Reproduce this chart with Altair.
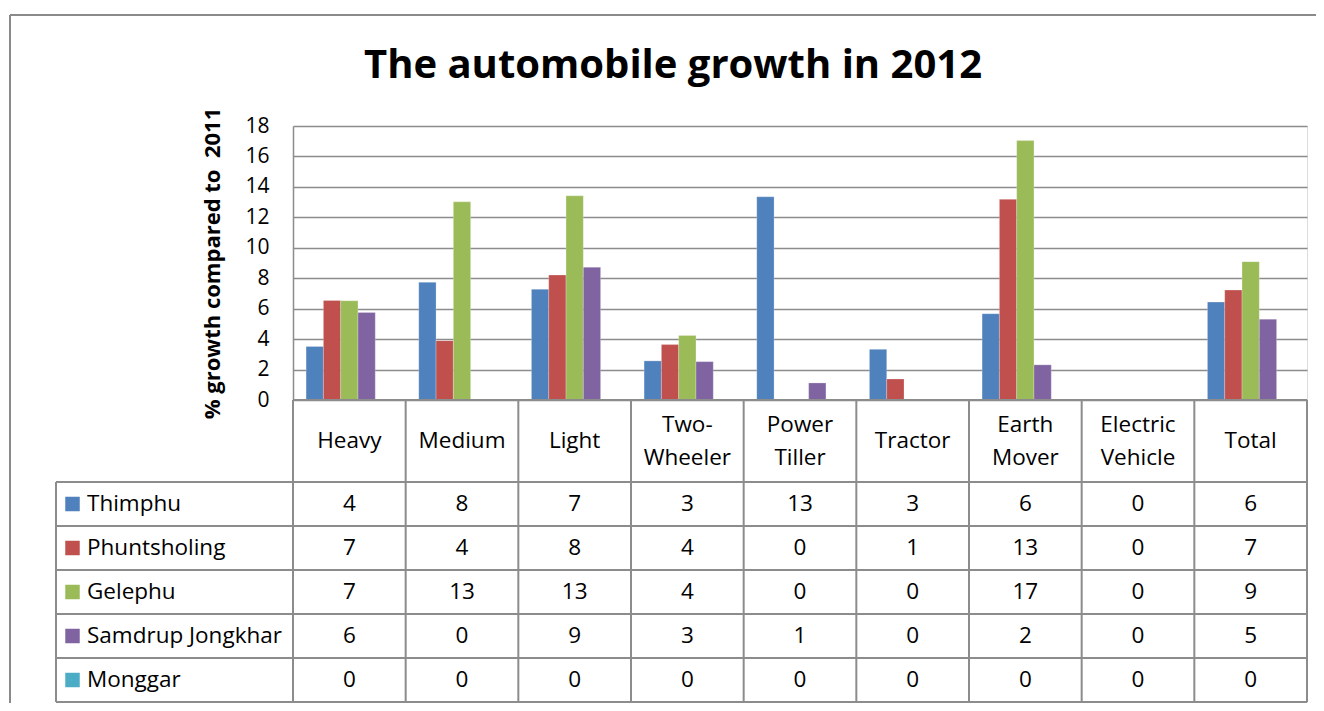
import altair as alt
import pandas as pd

# ---------------- data ----------------
categories = ["Heavy", "Medium", "Light", "Two-Wheeler", "Power Tiller",
              "Tractor", "Earth Mover", "Electric Vehicle", "Total"]
header_labels = ["Heavy", "Medium", "Light", "Two-\nWheeler", "Power\nTiller",
                 "Tractor", "Earth\nMover", "Electric\nVehicle", "Total"]
cities = ["Thimphu", "Phuntsholing", "Gelephu", "Samdrup Jongkhar", "Monggar"]
colors = ["#4F81BD", "#C0504D", "#9BBB59", "#8064A2", "#4BACC6"]

thimphu      = [3.52, 7.73, 7.27, 2.57, 13.35, 3.33, 5.67, 0, 6.43]
phuntsholing = [6.54, 3.90, 8.21, 3.64, 0.0, 1.38, 13.18, 0, 7.22]
gelephu      = [6.52, 13.02, 13.41, 4.24, 0.0, 0.0, 17.04, 0, 9.09]
samdrup      = [5.75, 0.0, 8.72, 2.52, 1.12, 0.0, 2.31, 0, 5.31]
monggar      = [0, 0, 0, 0, 0, 0, 0, 0, 0]

series = [thimphu, phuntsholing, gelephu, samdrup, monggar]

rows = []
for city, vals in zip(cities, series):
    for cat, v in zip(categories, vals):
        rows.append({"category": cat, "city": city, "value": v,
                     "label": str(int(v + 0.5))})
df = pd.DataFrame(rows)
hdr = pd.DataFrame({"category": categories, "header": header_labels,
                    "lines": [h.count("\n") + 1 for h in header_labels]})
cdf = pd.DataFrame({"city": cities})
one = pd.DataFrame({"k": [0]})

# ---------------- layout ----------------
FONT = "Open Sans"
TFS = 22.5        # table text size
W = 1014          # plot / table width
PH = 274          # plot height
HH = 82           # header row height
RH = 44.0         # table row height
H = PH + HH + RH * len(cities)
LEG = 237         # legend column width
GRID = "#8c8c8c"
LH = 33           # header line height

cat_band = alt.Scale(domain=categories, paddingInner=0, paddingOuter=0)
row_point = alt.Scale(type="point", domain=cities, range=[PH + HH, H], padding=0.5)
row_band = alt.Scale(type="band", domain=cities, range=[PH + HH, H],
                     paddingInner=0, paddingOuter=0)

bars = alt.Chart(df).mark_bar(stroke="white", strokeWidth=0.4, strokeOpacity=0.6).encode(
    x=alt.X("category:N", sort=categories, axis=None,
            scale=alt.Scale(domain=categories, paddingInner=0.2325, paddingOuter=0.11625)),
    xOffset=alt.XOffset("city:N", sort=cities,
                        scale=alt.Scale(domain=cities, paddingInner=0, paddingOuter=0)),
    y=alt.Y("value:Q", scale=alt.Scale(domain=[0, 18], range=[PH, 0], nice=False),
            axis=alt.Axis(values=list(range(0, 19, 2)), grid=True, gridColor=GRID,
                          gridWidth=1.5, domainColor=GRID, domainWidth=1.5, ticks=False,
                          labelFont=FONT, labelFontSize=21, labelColor="black",
                          labelPadding=24, title="% growth compared to\u00a0 2011",
                          titleFont=FONT, titleFontSize=22, titleFontWeight="bold",
                          titleColor="black", titlePadding=20)),
    color=alt.Color("city:N", scale=alt.Scale(domain=cities, range=colors), legend=None),
)

# table grid
vlines = alt.Chart(hdr).mark_rule(color=GRID, strokeWidth=2).encode(
    x=alt.X("category:N", bandPosition=0, scale=cat_band, axis=None),
    y=alt.value(PH), y2=alt.value(H))
vright = alt.Chart(one).mark_rule(color=GRID, strokeWidth=2).encode(
    x=alt.value(W), y=alt.value(PH), y2=alt.value(H))
vleft = alt.Chart(one).mark_rule(color=GRID, strokeWidth=2).encode(
    x=alt.value(-LEG), y=alt.value(PH + HH), y2=alt.value(H))
hlines = alt.Chart(cdf).mark_rule(color=GRID, strokeWidth=2).encode(
    y=alt.Y("city:N", bandPosition=0, scale=row_band, axis=None),
    x=alt.value(-LEG), x2=alt.value(W))
hbottom = alt.Chart(one).mark_rule(color=GRID, strokeWidth=2).encode(
    y=alt.value(H), x=alt.value(-LEG), x2=alt.value(W))
htop = alt.Chart(one).mark_rule(color=GRID, strokeWidth=2).encode(
    y=alt.value(PH), x=alt.value(0), x2=alt.value(W))

# header labels (one-line and two-line, each block centred in the header row)
hdr_text = dict(font=FONT, fontSize=TFS, lineBreak="\n", lineHeight=LH,
                baseline="middle", color="black")
headers1 = alt.Chart(hdr).transform_filter("datum.lines == 1").mark_text(**hdr_text).encode(
    x=alt.X("category:N", scale=cat_band, axis=None),
    y=alt.value(PH + HH / 2),
    text="header:N")
headers2 = alt.Chart(hdr).transform_filter("datum.lines == 2").mark_text(**hdr_text).encode(
    x=alt.X("category:N", scale=cat_band, axis=None),
    y=alt.value(PH + HH / 2 - LH / 2),
    text="header:N")

# cell values
cells = alt.Chart(df).mark_text(font=FONT, fontSize=TFS, baseline="middle",
                                color="black").encode(
    x=alt.X("category:N", scale=cat_band, axis=None),
    y=alt.Y("city:N", scale=row_point, axis=None),
    text="label:N")

# legend column
swatch = alt.Chart(cdf).mark_square(size=210, opacity=1).encode(
    x=alt.value(-LEG + 16.5),
    y=alt.Y("city:N", scale=row_point, axis=None),
    color=alt.Color("city:N", scale=alt.Scale(domain=cities, range=colors), legend=None))
names = alt.Chart(cdf).mark_text(font=FONT, fontSize=TFS, align="left", baseline="middle",
                                 color="black").encode(
    x=alt.value(-LEG + 31),
    y=alt.Y("city:N", scale=row_point, axis=None),
    text="city:N")

# title and outer frame
title = alt.Chart(one).mark_text(text="The automobile growth in 2012", font=FONT,
                                 fontSize=40, fontWeight="bold", align="center",
                                 baseline="alphabetic", color="black").encode(
    x=alt.value(673 - 293), y=alt.value(78 - 126))
frame_l = alt.Chart(one).mark_rule(color="#8a8a8a", strokeWidth=2).encode(
    x=alt.value(10 - 293), y=alt.value(15 - 126), y2=alt.value(H + 20))
frame_t = alt.Chart(one).mark_rule(color="#8a8a8a", strokeWidth=2).encode(
    y=alt.value(15 - 126), x=alt.value(10 - 293), x2=alt.value(W + 40))

chart = alt.layer(
    bars, vlines, vright, vleft, hlines, hbottom, htop,
    headers1, headers2, cells, swatch, names, title, frame_l, frame_t
).resolve_scale(
    x="independent", y="independent", color="shared"
).properties(
    width=W, height=H,
    autosize=alt.AutoSizeParams(type="none"),
    padding={"left": 285, "top": 118, "right": 9, "bottom": 1},
).configure_view(stroke=None).configure(background="white")

chart.save("out.html", embed_options={"renderer": "svg", "actions": False})
